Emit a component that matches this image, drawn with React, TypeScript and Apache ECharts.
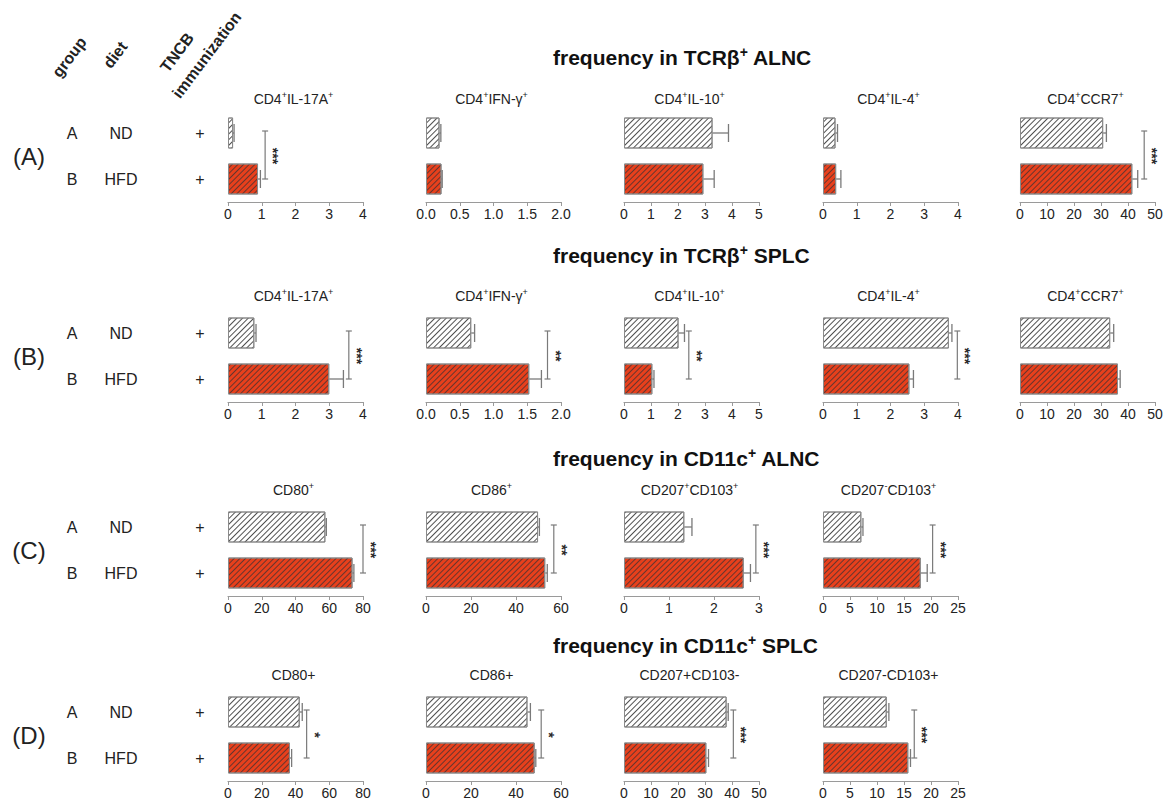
import React, { useEffect, useRef } from 'react';
import * as echarts from 'echarts';

// ---------- data ----------
const groups = ['A', 'B'];
const diets = ['ND', 'HFD'];
const immunization = ['+', '+'];
const rowTags = ['(A)', '(B)', '(C)', '(D)'];
const rowTitles = [
  'frequency in TCRβ{s|+} ALNC',
  'frequency in TCRβ{s|+} SPLC',
  'frequency in CD11c{s|+} ALNC',
  'frequency in CD11c{s|+} SPLC',
];

// Row A : TCRβ+ ALNC
const rowALabels = ['CD4{s|+}IL-17A{s|+}', 'CD4{s|+}IFN-γ{s|+}', 'CD4{s|+}IL-10{s|+}', 'CD4{s|+}IL-4{s|+}', 'CD4{s|+}CCR7{s|+}'];
const rowAMax = [4, 2, 5, 4, 50];
const rowAInterval = [1, 0.5, 1, 1, 10];
const rowAND = [0.15, 0.2, 3.28, 0.37, 30.8];
const rowANDErr = [0.03, 0.02, 0.59, 0.06, 1.2];
const rowAHFD = [0.89, 0.23, 2.94, 0.39, 41.6];
const rowAHFDErr = [0.07, 0.01, 0.4, 0.14, 2.0];
const rowASig = ['***', '', '', '', '***'];
const rowASigAt = [1.1, 0, 0, 0, 46];

// Row B : TCRβ+ SPLC
const rowBLabels = ['CD4{s|+}IL-17A{s|+}', 'CD4{s|+}IFN-γ{s|+}', 'CD4{s|+}IL-10{s|+}', 'CD4{s|+}IL-4{s|+}', 'CD4{s|+}CCR7{s|+}'];
const rowBMax = [4, 2, 5, 4, 50];
const rowBInterval = [1, 0.5, 1, 1, 10];
const rowBND = [0.78, 0.67, 2.02, 3.73, 33.4];
const rowBNDErr = [0.05, 0.05, 0.22, 0.09, 1.3];
const rowBHFD = [3.0, 1.53, 1.05, 2.56, 36.3];
const rowBHFDErr = [0.42, 0.18, 0.06, 0.12, 0.8];
const rowBSig = ['***', '**', '**', '***', ''];
const rowBSigAt = [3.58, 1.8, 2.4, 3.98, 0];

// Row C : CD11c+ ALNC
const rowCLabels = ['CD80{s|+}', 'CD86{s|+}', 'CD207{s|+}CD103{s|+}', 'CD207{s|-}CD103{s|+}'];
const rowCMax = [80, 60, 3, 25];
const rowCInterval = [20, 20, 1, 5];
const rowCND = [57.7, 49.8, 1.34, 7.1];
const rowCNDErr = [0.6, 0.6, 0.17, 0.3];
const rowCHFD = [73.8, 53.0, 2.66, 18.1];
const rowCHFDErr = [0.8, 0.9, 0.15, 1.2];
const rowCSig = ['***', '**', '***', '***'];
const rowCSigAt = [80, 56.8, 2.93, 20.3];

// Row D : CD11c+ SPLC
const rowDLabels = ['CD80+', 'CD86+', 'CD207+CD103-', 'CD207-CD103+'];
const rowDMax = [80, 60, 50, 25];
const rowDInterval = [20, 20, 10, 5];
const rowDND = [42.5, 45.1, 38.0, 11.8];
const rowDNDErr = [1.5, 1.3, 0.6, 0.4];
const rowDHFD = [36.7, 48.3, 30.5, 15.8];
const rowDHFDErr = [1.0, 0.5, 0.8, 0.4];
const rowDSig = ['*', '*', '***', '***'];
const rowDSigAt = [46.6, 51.2, 40.5, 16.9];

const rows = [
  { labels: rowALabels, max: rowAMax, interval: rowAInterval, nd: rowAND, ndErr: rowANDErr, hfd: rowAHFD, hfdErr: rowAHFDErr, sig: rowASig, sigAt: rowASigAt },
  { labels: rowBLabels, max: rowBMax, interval: rowBInterval, nd: rowBND, ndErr: rowBNDErr, hfd: rowBHFD, hfdErr: rowBHFDErr, sig: rowBSig, sigAt: rowBSigAt },
  { labels: rowCLabels, max: rowCMax, interval: rowCInterval, nd: rowCND, ndErr: rowCNDErr, hfd: rowCHFD, hfdErr: rowCHFDErr, sig: rowCSig, sigAt: rowCSigAt },
  { labels: rowDLabels, max: rowDMax, interval: rowDInterval, nd: rowDND, ndErr: rowDNDErr, hfd: rowDHFD, hfdErr: rowDHFDErr, sig: rowDSig, sigAt: rowDSigAt },
];

// ---------- layout ----------
const FONT = '"Liberation Sans", Arial, Helvetica, sans-serif';
const colLeft = [228, 426, 624, 823, 1020];
const colWidth = 135;
const rowTop = [110, 310, 504, 689];
const rowHeight = 92;
const titleY = [57, 255, 458, 645];
const subY = [99, 296, 490, 675];
const BAR_W = 31;
const MARK = '#7a7a7a';

const ndStyle = {
  color: '#ffffff',
  borderColor: '#8a8a8a',
  borderWidth: 1,
  decal: {
    symbol: 'rect',
    symbolSize: 1,
    rotation: -Math.PI / 4,
    dashArrayX: [1, 0],
    dashArrayY: [1, 2.8],
    color: '#505050',
  },
};
const hfdStyle = {
  color: '#e8401c',
  borderColor: '#8a8a8a',
  borderWidth: 1,
  decal: {
    symbol: 'rect',
    symbolSize: 1,
    rotation: -Math.PI / 4,
    dashArrayX: [1, 0],
    dashArrayY: [1, 2.8],
    color: 'rgba(70,50,50,0.8)',
  },
};

const errRender = (params: any, api: any) => {
  const y = api.value(1);
  const p0 = api.coord([api.value(0), y]);
  const p1 = api.coord([api.value(2), y]);
  const h = 18;
  const st = { stroke: MARK, lineWidth: 1.3, fill: 'none' };
  return {
    type: 'group',
    children: [
      { type: 'line', shape: { x1: p0[0], y1: p0[1], x2: p1[0], y2: p1[1] }, style: st },
      { type: 'line', shape: { x1: p1[0], y1: p1[1] - h / 2, x2: p1[0], y2: p1[1] + h / 2 }, style: st },
    ],
  };
};

const makeSigRender = (stars: string) => (params: any, api: any) => {
  const x = api.value(0);
  const top = api.coord([x, api.value(1)]);
  const bot = api.coord([x, api.value(2)]);
  const st = { stroke: MARK, lineWidth: 1.2, fill: 'none' };
  const cap = 3;
  return {
    type: 'group',
    children: [
      { type: 'line', shape: { x1: top[0], y1: top[1] - 2, x2: bot[0], y2: bot[1] }, style: st },
      { type: 'line', shape: { x1: top[0] - cap, y1: top[1] - 2, x2: top[0] + cap, y2: top[1] - 2 }, style: st },
      { type: 'line', shape: { x1: bot[0] - cap, y1: bot[1], x2: bot[0] + cap, y2: bot[1] }, style: st },
      {
        type: 'text',
        x: top[0] + 8,
        y: (top[1] + bot[1]) / 2,
        rotation: -Math.PI / 2,
        style: {
          text: stars,
          fill: '#2a2a2a',
          fontSize: 14,
          fontFamily: FONT,
          fontWeight: 'bold',
          align: 'center',
          verticalAlign: 'middle',
        },
      },
    ],
  };
};

function buildOption() {
  const grid: any[] = [];
  const xAxis: any[] = [];
  const yAxis: any[] = [];
  const series: any[] = [];
  const graphic: any[] = [];
  let k = 0;

  rows.forEach((row, r) => {
    row.labels.forEach((label, c) => {
      const left = colLeft[c];
      grid.push({ left, top: rowTop[r], width: colWidth, height: rowHeight });
      const iv = row.interval[c];
      xAxis.push({
        gridIndex: k,
        type: 'value',
        min: 0,
        max: row.max[c],
        interval: iv,
        axisLine: { show: true, lineStyle: { color: '#9a9a9a', width: 1.2 } },
        axisTick: { show: true, length: 4, lineStyle: { color: '#9a9a9a' } },
        axisLabel: {
          color: '#222',
          fontSize: 14,
          fontFamily: FONT,
          margin: 5,
          formatter: (v: number) => (iv < 1 ? v.toFixed(1) : String(v)),
        },
        splitLine: { show: false },
      });
      yAxis.push({ gridIndex: k, type: 'category', data: groups, inverse: true, show: false });
      series.push({
        type: 'bar',
        xAxisIndex: k,
        yAxisIndex: k,
        barWidth: BAR_W,
        data: [
          { value: row.nd[c], itemStyle: ndStyle },
          { value: row.hfd[c], itemStyle: hfdStyle },
        ],
        z: 2,
      });
      series.push({
        type: 'custom',
        xAxisIndex: k,
        yAxisIndex: k,
        clip: false,
        z: 3,
        itemStyle: { color: MARK },
        encode: { x: [0, 2], y: 1 },
        data: [
          [row.nd[c], 0, row.nd[c] + row.ndErr[c]],
          [row.hfd[c], 1, row.hfd[c] + row.hfdErr[c]],
        ],
        renderItem: errRender,
      });
      if (row.sig[c]) {
        series.push({
          type: 'custom',
          xAxisIndex: k,
          yAxisIndex: k,
          clip: false,
          z: 4,
          itemStyle: { color: '#2a2a2a' },
          encode: { x: 0, y: [1, 2] },
          data: [[row.sigAt[c], 0, 1]],
          renderItem: makeSigRender(row.sig[c]),
        });
      }
      graphic.push({
        type: 'text',
        x: left + colWidth / 2 - 2,
        y: subY[r],
        style: {
          text: label,
          fill: '#222',
          fontSize: 14,
          fontFamily: FONT,
          align: 'center',
          verticalAlign: 'middle',
          lineHeight: 17,
          rich: {
            s: { fontSize: 9, fontFamily: FONT, fill: '#222', verticalAlign: 'top', lineHeight: 9 },
          },
        },
      });
      k++;
    });

    // row title
    graphic.push({
      type: 'text',
      x: 553,
      y: titleY[r],
      style: {
        text: rowTitles[r],
        fill: '#111',
        fontSize: 21,
        fontWeight: 'bold',
        fontFamily: FONT,
        align: 'left',
        verticalAlign: 'middle',
        lineHeight: 24,
        rich: {
          s: { fontSize: 14, fontWeight: 'bold', fontFamily: FONT, fill: '#111', verticalAlign: 'top', lineHeight: 14 },
        },
      },
    });

    // left labels
    const yA = rowTop[r] + rowHeight / 4;
    const yB = rowTop[r] + (rowHeight * 3) / 4;
    graphic.push({
      type: 'text', x: 29, y: (yA + yB) / 2,
      style: { text: rowTags[r], fill: '#222', fontSize: 24, fontFamily: FONT, align: 'center', verticalAlign: 'middle' },
    });
    [yA, yB].forEach((yy, i) => {
      graphic.push({ type: 'text', x: 72, y: yy, style: { text: groups[i], fill: '#222', fontSize: 16, fontFamily: FONT, align: 'center', verticalAlign: 'middle' } });
      graphic.push({ type: 'text', x: 121, y: yy, style: { text: diets[i], fill: '#222', fontSize: 16, fontFamily: FONT, align: 'center', verticalAlign: 'middle' } });
      graphic.push({ type: 'text', x: 200, y: yy, style: { text: immunization[i], fill: '#222', fontSize: 16, fontFamily: FONT, align: 'center', verticalAlign: 'middle' } });
    });
  });

  // rotated column headers
  const rot = (53 * Math.PI) / 180;
  const headers = [
    { t: 'group', x: 62, y: 80 },
    { t: 'diet', x: 113, y: 71 },
    { t: 'TNCB', x: 170, y: 75 },
    { t: 'immunization', x: 182, y: 101 },
  ];
  headers.forEach((h) => {
    graphic.push({
      type: 'text',
      x: h.x,
      y: h.y,
      rotation: rot,
      style: { text: h.t, fill: '#222', fontSize: 16, fontWeight: 'bold', fontFamily: FONT, align: 'left', verticalAlign: 'bottom' },
    });
  });

  return {
    animation: false,
    backgroundColor: '#ffffff',
    grid,
    xAxis,
    yAxis,
    series,
    graphic,
  };
}

export default function App() {
  const ref = useRef<HTMLDivElement>(null);
  useEffect(() => {
    if (!ref.current) return;
    const chart = echarts.init(ref.current, undefined, { renderer: 'svg' });
    chart.setOption(buildOption() as any);
    return () => chart.dispose();
  }, []);
  return (
    <div
      ref={ref}
      style={{ position: 'fixed', left: 0, top: 0, width: 1173, height: 800, background: '#fff' }}
    />
  );
}
